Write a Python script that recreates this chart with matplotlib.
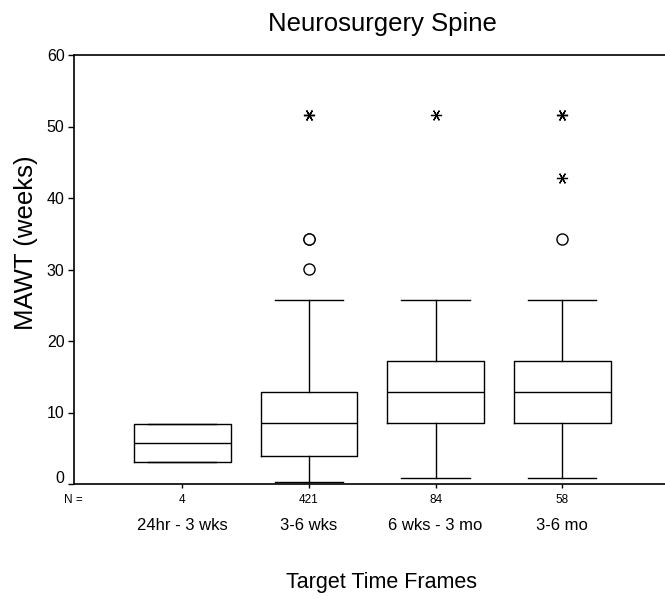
import matplotlib
matplotlib.use("Agg")
import matplotlib.pyplot as plt
from matplotlib.transforms import ScaledTranslation

plt.rcParams['font.family'] = ['Liberation Sans', 'DejaVu Sans']

# data (weeks)
groups = ["24hr - 3 wks", "3-6 wks", "6 wks - 3 mo", "3-6 mo"]
counts = [4, 421, 84, 58]
q1 = [3.03, 3.96, 8.49, 8.49]
medians = [5.78, 8.49, 12.83, 12.83]
q3 = [8.39, 12.83, 17.24, 17.24]
whisker_lo = [3.03, 0.32, 0.86, 0.86]
whisker_hi = [8.39, 25.7, 25.7, 25.7]
outliers = [[], [34.3, 34.3, 30.1], [], [34.3]]       # circles
extremes = [[], [51.6, 51.6], [51.6], [51.6, 51.6, 42.8]]  # stars
yticks = [0, 10, 20, 30, 40, 50, 60]

W, H = 665, 599
fig = plt.figure(figsize=(W / 100, H / 100), dpi=100)
ax = fig.add_axes([74.3 / W, 115 / H, 1 - 74.3 / W, 429 / H])

positions = list(range(1, len(groups) + 1))
stats = []
for i in range(len(groups)):
    stats.append(dict(med=medians[i], q1=q1[i], q3=q3[i],
                      whislo=whisker_lo[i], whishi=whisker_hi[i], fliers=[]))

line = dict(color="black", linewidth=1.0)
ax.bxp(stats, positions=positions, widths=0.763, capwidths=0.54,
       showfliers=False, boxprops=line, medianprops=line,
       whiskerprops=line, capprops=line)

for x, vals in zip(positions, outliers):
    if vals:
        ax.plot([x] * len(vals), vals, linestyle="none", marker="o",
                markersize=8, markerfacecolor="white",
                markeredgecolor="black", markeredgewidth=1.0)
for x, vals in zip(positions, extremes):
    if vals:
        ax.plot([x] * len(vals), vals, linestyle="none", marker=(6, 2, 90),
                markersize=8, color="black", markeredgewidth=0.9)

ax.set_xlim(0.1474, 4.811)
ax.set_ylim(0, 60)
ax.set_yticks(yticks)
ax.set_yticklabels([str(t) for t in yticks])
ax.set_xticks(positions)
ax.set_xticklabels([])
ax.tick_params(axis="y", length=4, width=1, labelsize=11.5, pad=3)
ax.tick_params(axis="x", length=3, width=1)
ax.spines["right"].set_visible(False)
for s in ["left", "bottom", "top"]:
    ax.spines[s].set_linewidth(1.2)

# the "0" label sits a little above its tick in the reference
lab0 = ax.get_yticklabels()[0]
lab0.set_transform(lab0.get_transform() + ScaledTranslation(0, 5 / 72, fig.dpi_scale_trans))

tr = ax.get_xaxis_transform()
for x, n, g in zip(positions, counts, groups):
    ax.text(x, (484 - 503) / 429, str(n), transform=tr, ha="center",
            va="baseline", fontsize=8.5)
    ax.text(x, (484 - 530) / 429, g, transform=tr, ha="center",
            va="baseline", fontsize=12)

fig.text(73 / W, 1 - 503 / H, "N =", ha="center", va="baseline", fontsize=8.5)
fig.text(382.5 / W, 1 - 30.5 / H, "Neurosurgery Spine", ha="center",
         va="baseline", fontsize=18.5)
fig.text(382 / W, 1 - 588 / H, "Target Time Frames", ha="center",
         va="baseline", fontsize=15.5)
fig.text(26 / W, 1 - 243 / H, "MAWT (weeks)", rotation=90, ha="center",
         va="center", fontsize=18.5)

fig.savefig("out.png", dpi=100)
